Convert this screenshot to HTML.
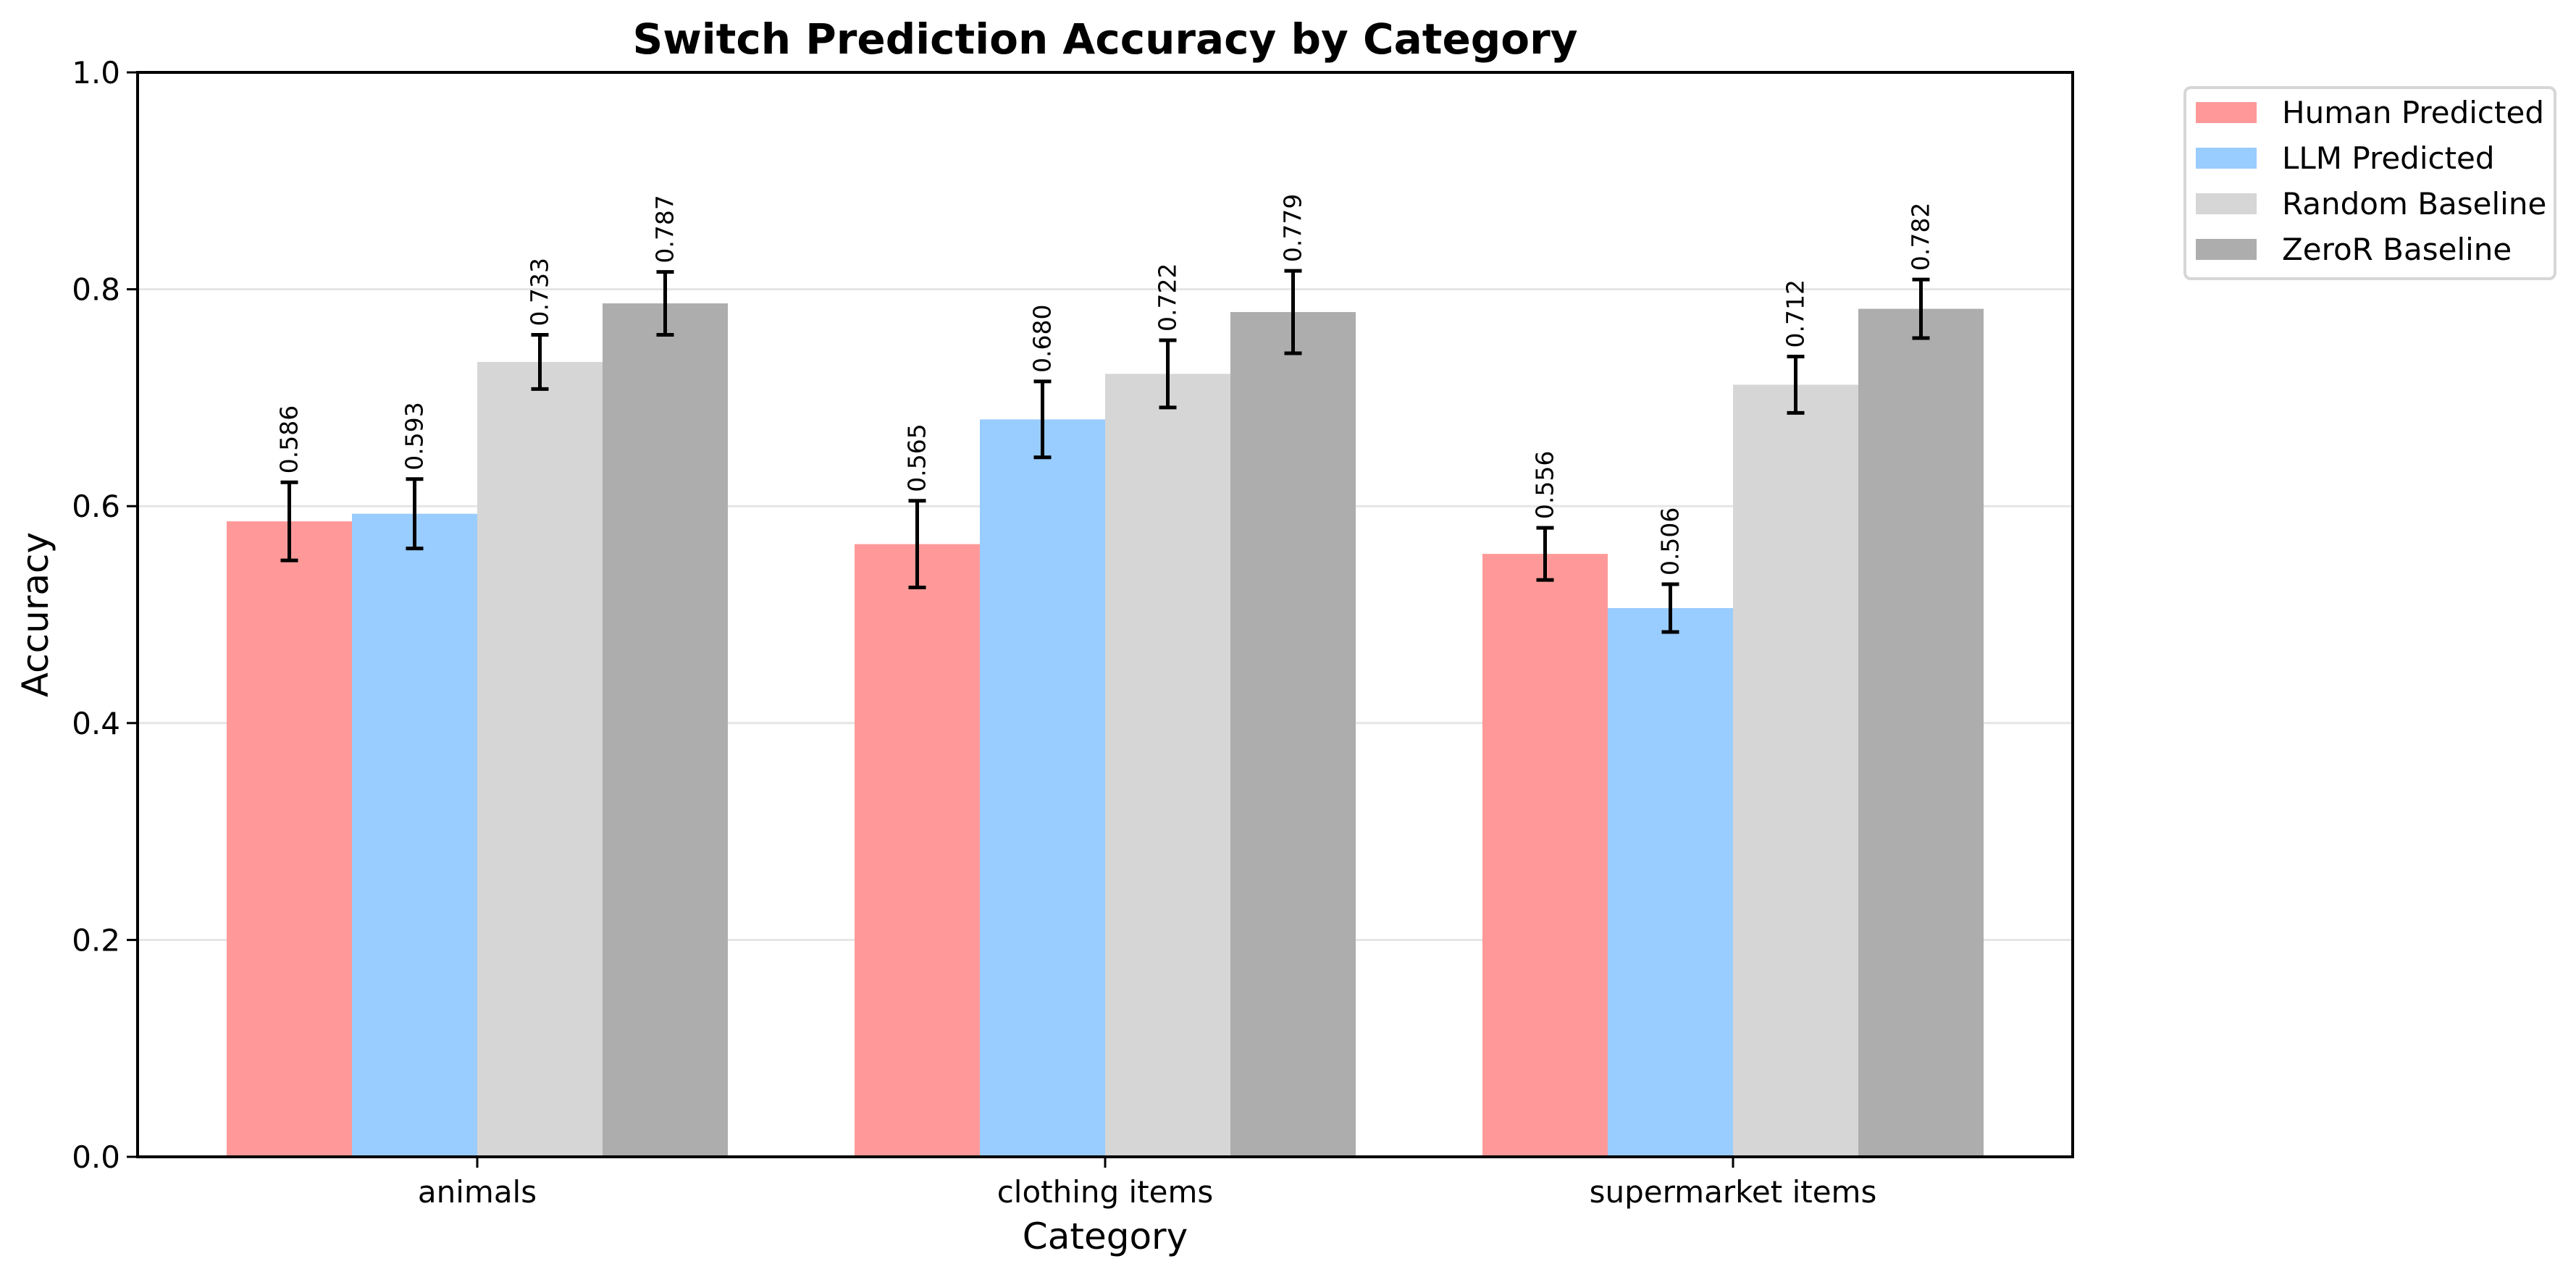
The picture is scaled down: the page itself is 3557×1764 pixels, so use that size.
<!DOCTYPE html>
<html><head><meta charset="utf-8"><style>
html,body{margin:0;padding:0;background:#fff;}
svg{display:block;font-family:"DejaVu Sans","Liberation Sans",sans-serif;}
</style></head><body>
<svg id="chart" width="3557" height="1764" viewBox="0 0 3557 1764" xmlns="http://www.w3.org/2000/svg">
<rect width="3557" height="1764" fill="#fff"/>
<text x="1526" y="74" font-size="58" font-weight="bold" text-anchor="middle">Switch Prediction Accuracy by Category</text>
<g id="grid"></g>
<g id="bars"></g>
<g id="axes"></g>
<text x="1526" y="1725" font-size="50" text-anchor="middle">Category</text>
<text transform="translate(66,849) rotate(-90)" font-size="50" text-anchor="middle">Accuracy</text>
<g id="legend">
<rect x="3017" y="121" width="511" height="264" rx="8" fill="#fff" stroke="#d6d6d6" stroke-width="4"/>
</g>
</svg>
<script>
const categories = ["animals", "clothing items", "supermarket items"];
const seriesNames = ["Human Predicted", "LLM Predicted", "Random Baseline", "ZeroR Baseline"];
const seriesColors = ["#ff9999", "#99ccff", "#d6d6d6", "#adadad"];
const humanValues = [0.586, 0.565, 0.556];
const llmValues = [0.593, 0.680, 0.506];
const randomValues = [0.733, 0.722, 0.712];
const zeroRValues = [0.787, 0.779, 0.782];
const humanErr = [0.036, 0.040, 0.024];
const llmErr = [0.032, 0.035, 0.022];
const randomErr = [0.025, 0.031, 0.026];
const zeroRErr = [0.029, 0.038, 0.027];
const yTicks = [0.0, 0.2, 0.4, 0.6, 0.8, 1.0];

const NS = "http://www.w3.org/2000/svg";
const plotL = 190, plotR = 2862, plotT = 100, plotB = 1598;
const yMin = 0, yMax = 1;
function yScale(v){ return plotB - (v - yMin) / (yMax - yMin) * (plotB - plotT); }
const catStart = 659, catStep = 867, barW = 173;
function xCenter(i){ return catStart + i * catStep; }
function mk(tag, attrs, parent){
  const el = document.createElementNS(NS, tag);
  for (const k in attrs) el.setAttribute(k, attrs[k]);
  parent.appendChild(el);
  return el;
}
const grid = document.getElementById("grid");
const bars = document.getElementById("bars");
const axes = document.getElementById("axes");
const legend = document.getElementById("legend");

yTicks.forEach(t => {
  const y = yScale(t);
  if (t > 0 && t < 1) {
    const g = mk("line", {x1: plotL, x2: plotR, y1: y, y2: y, stroke: "#e5e5e5", "stroke-width": 3}, grid);
    
    
  }
  const tk = mk("line", {x1: plotL - 15, x2: plotL, y1: y, y2: y, stroke: "#000", "stroke-width": 3}, axes);
  
  
  const lb = mk("text", {x: plotL - 24, y: y + 15, "font-size": 42, "text-anchor": "end"}, axes);
  lb.textContent = t.toFixed(1);
  
  
});

const allValues = [humanValues, llmValues, randomValues, zeroRValues];
const allErr = [humanErr, llmErr, randomErr, zeroRErr];
categories.forEach((c, i) => {
  const cx = xCenter(i);
  allValues.forEach((vals, s) => {
    const x0 = cx + (s - 2) * barW;
    const bx = x0 + barW / 2;
    const v = vals[i], e = allErr[s][i];
    const r = mk("rect", {x: x0, y: yScale(v), width: barW, height: yScale(0) - yScale(v), fill: seriesColors[s]}, bars);
    
    
    const top = yScale(v + e), bot = yScale(v - e);
    const eg = mk("g", {stroke: "#000", "stroke-width": 5}, bars);
    
    
    mk("line", {x1: bx, x2: bx, y1: top, y2: bot}, eg);
    mk("line", {x1: bx - 12, x2: bx + 12, y1: top, y2: top}, eg);
    mk("line", {x1: bx - 12, x2: bx + 12, y1: bot, y2: bot}, eg);
    const t = mk("text", {transform: `translate(${bx + 11},${top - 12}) rotate(-90)`, "font-size": 33}, bars);
    t.textContent = v.toFixed(3);
    
    
  });
  const tk = mk("line", {x1: cx, x2: cx, y1: plotB, y2: plotB + 15, stroke: "#000", "stroke-width": 3}, axes);
  
  
  const lb = mk("text", {x: cx, y: plotB + 63, "font-size": 42, "text-anchor": "middle"}, axes);
  lb.textContent = c;
  
  
});
const frame = mk("rect", {x: plotL, y: plotT, width: plotR - plotL, height: plotB - plotT, fill: "none", stroke: "#000", "stroke-width": 4}, axes);



seriesNames.forEach((n, s) => {
  const y = 141 + s * 63;
  const p = mk("rect", {x: 3032, y: y, width: 84, height: 29, fill: seriesColors[s]}, legend);
  
  
  const t = mk("text", {x: 3151, y: y + 29, "font-size": 42}, legend);
  t.textContent = n;
  
  
});
</script>
</body></html>
